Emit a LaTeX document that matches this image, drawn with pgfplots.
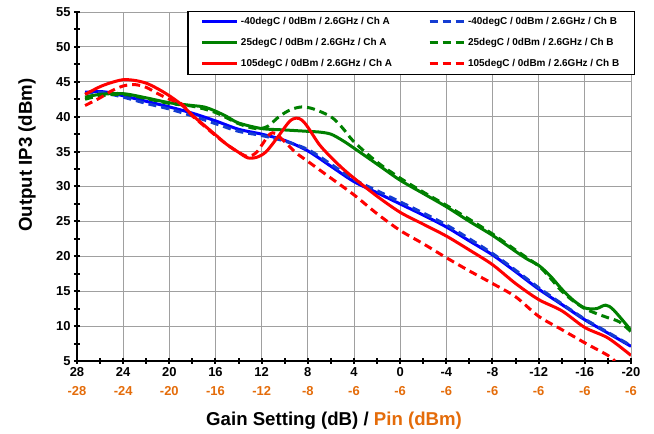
\documentclass[border=0pt]{standalone}
\usepackage{fontspec}
\setmainfont{Liberation Sans}
\usepackage{pgfplots}
\pgfplotsset{compat=1.18}
\definecolor{cblue}{RGB}{0,0,255}
\definecolor{cblued}{RGB}{20,60,210}
\definecolor{cgreen}{RGB}{0,128,0}
\definecolor{cred}{RGB}{255,0,0}
\definecolor{pinorange}{RGB}{228,108,10}
\definecolor{gridgray}{RGB}{160,160,160}

\pgfplotstableread{
x y
27.3 43.5
26 43.6
25 43.4
24 43.0
22 42.2
20 41.4
18 40.5
16 39.4
14 38.2
12 37.5
10 36.6
8 35.1
6 32.9
4 30.7
2 29.1
0 27.5
-2 25.9
-4 24.2
-6 22.2
-8 20.2
-10 17.8
-12 15.3
-14 13.1
-16 10.9
-18 9.0
-20 7.1
}\blueA
\pgfplotstableread{
x y
27.3 43.3
26 43.5
24 42.8
22 41.9
20 41.1
18 40.1
16 39.0
14 37.9
12 37.3
10 36.5
8 35.3
6 33.2
4 31.0
2 29.4
0 27.8
-2 26.2
-4 24.5
-6 22.5
-8 20.4
-10 18.0
-12 15.5
-14 13.2
-16 11.0
-18 9.1
-20 7.2
}\blueB
\pgfplotstableread{
x y
27.3 42.8
26 43.2
24 43.3
22 42.7
20 42.0
18 41.6
17 41.4
16 40.8
15 40.0
14 39.1
12 38.3
10 38.1
8 37.9
7 37.8
6 37.5
5 36.6
4 35.5
2 33.2
0 30.9
-2 29.0
-4 27.1
-6 25.0
-8 23.0
-10 20.7
-11 19.6
-12 18.7
-13 17.2
-14 15.3
-15 13.7
-16 12.6
-17 12.5
-17.8 13.0
-18.5 12.3
-20 9.4
}\greenA
\pgfplotstableread{
x y
27.3 42.5
26 43.0
24 43.2
22 42.6
20 41.9
18 41.5
16 40.6
14 39.0
12.5 38.3
11.5 38.6
10.5 40.0
9.5 41.0
8.5 41.4
7.5 41.1
6 40.0
5 38.4
4 36.4
2 33.5
0 31.2
-2 29.2
-4 27.3
-6 25.3
-8 23.2
-10 20.9
-12 18.6
-13 16.9
-14 15.0
-15 13.6
-16 12.5
-17 11.8
-18 11.2
-19 10.6
-20 9.2
}\greenB
\pgfplotstableread{
x y
27.3 43.2
26 44.3
25 44.9
24 45.3
23 45.2
22 44.8
21 44.0
20 43.0
19 41.8
18 40.2
17 38.8
16 37.4
15 36.0
14 34.9
13.2 34.1
12.4 34.2
11.6 35.0
10.6 37.1
9.6 39.3
9.0 39.8
8.5 39.5
8 38.5
7 36.0
6 34.2
5 32.6
4 31.2
2 28.6
0 26.3
-2 24.6
-4 22.9
-6 20.9
-8 18.8
-10 16.1
-12 13.8
-14 12.2
-16 9.8
-18 8.3
-20 5.8
}\redA
\pgfplotstableread{
x y
27.3 41.6
26 42.7
25 43.7
24 44.4
23 44.6
22 44.2
21 43.3
20 42.5
19 41.9
18.5 41.1
18 40.1
17 38.7
16 37.3
15 36.0
14 34.9
13.2 34.3
12.5 34.8
12 35.9
11.3 37.5
10.8 37.6
10 36.4
9 34.8
8 33.6
6 31.2
4 28.8
2 26.1
0 23.7
-2 21.8
-4 19.8
-6 17.9
-8 16.1
-10 14.2
-12 11.4
-14 9.5
-16 7.6
-18 5.8
-18.6 5.0
}\redB

\begin{document}
\begin{tikzpicture}
\begin{axis}[
  scale only axis, width=554bp, height=349bp,
  xmin=-20, xmax=28, ymin=5, ymax=55, x dir=reverse,
  axis x line*=bottom, axis y line*=left,
  axis line style={line width=2bp, black, -},
  xtick={-20,-16,-12,-8,-4,0,4,8,12,16,20,24,28},
  xticklabels={
    {-20\\\textcolor{pinorange}{-6}},
    {-16\\\textcolor{pinorange}{-6}},
    {-12\\\textcolor{pinorange}{-6}},
    {-8\\\textcolor{pinorange}{-6}},
    {-4\\\textcolor{pinorange}{-6}},
    {0\\\textcolor{pinorange}{-6}},
    {4\\\textcolor{pinorange}{-6}},
    {8\\\textcolor{pinorange}{-8}},
    {12\\\textcolor{pinorange}{-12}},
    {16\\\textcolor{pinorange}{-16}},
    {20\\\textcolor{pinorange}{-20}},
    {24\\\textcolor{pinorange}{-24}},
    {28\\\textcolor{pinorange}{-28}}},
  x tick label style={align=center, font=\bfseries\fontsize{13}{19}\selectfont},
  ytick={5,10,...,55},
  y tick label style={font=\bfseries\fontsize{13}{15}\selectfont},
  /pgf/number format/assume math mode=true,
  minor x tick num=1, minor y tick num=1,
  tick align=center, major tick length=6bp, minor tick length=6bp,
  tick style={black, line width=2bp},
  grid=major, major grid style={gridgray, line width=0.9bp},
  xlabel={Gain Setting (dB) / \textcolor{pinorange}{Pin (dBm)}},
  xlabel style={at={(rel axis cs:0.464,-0.17)}, anchor=center, font=\bfseries\fontsize{18.7}{22}\selectfont},
  ylabel={Output IP3 (dBm)},
  ylabel style={at={(rel axis cs:-0.0903,0.59)}, anchor=center, font=\bfseries\fontsize{18.7}{22}\selectfont},
  legend columns=2,
  legend cell align=left,
  legend image code/.code={\draw[#1] (0bp,0bp) -- (35bp,0bp);},
  legend style={at={(1.007,1.004)}, anchor=north east, draw=black, line width=1.3bp, fill=white,
    font=\bfseries\fontsize{10}{11}\selectfont, inner xsep=13bp, inner ysep=4bp, row sep=8.5bp,
    /tikz/every even column/.append style={column sep=34bp}},
  every axis plot/.append style={line width=3bp, smooth, no markers},
]
\addplot[cblue] table {\blueA};
\addlegendentry{-40degC / 0dBm /  2.6GHz /  Ch A}
\addplot[cblued, dash pattern=on 8bp off 5bp] table {\blueB};
\addlegendentry{-40degC / 0dBm /  2.6GHz /  Ch B}
\addplot[cgreen] table {\greenA};
\addlegendentry{25degC / 0dBm /  2.6GHz /  Ch A}
\addplot[cgreen, dash pattern=on 8bp off 5bp] table {\greenB};
\addlegendentry{25degC / 0dBm /  2.6GHz /  Ch B}
\addplot[cred] table {\redA};
\addlegendentry{105degC / 0dBm /  2.6GHz /  Ch A}
\addplot[cred, dash pattern=on 8bp off 5bp] table {\redB};
\addlegendentry{105degC / 0dBm /  2.6GHz /  Ch B}
\end{axis}
\pgfresetboundingbox
\path ([shift={(-77bp,-73bp)}]current axis.south west) rectangle ([shift={(23bp,12bp)}]current axis.north east);
\end{tikzpicture}
\end{document}
